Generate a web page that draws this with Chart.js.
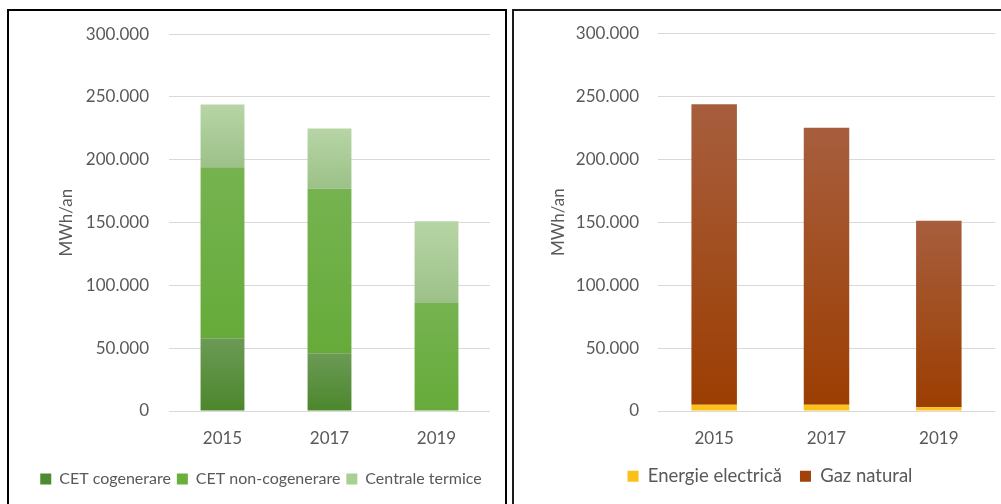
<!DOCTYPE html>
<html>
<head>
<meta charset="utf-8">
<script src="https://cdn.jsdelivr.net/npm/chart.js@4.4.1/dist/chart.umd.min.js"></script>
<style>
  body { margin: 0; background: #fff; width: 1001px; height: 504px; overflow: hidden; position: relative; font-family: Lato, sans-serif; }
  .panel { position: absolute; box-sizing: border-box; }
  #p1 { left: 7px; top: 9px; width: 500px; height: 520px; border: 2px solid #000; }
  #p2 { left: 512px; top: 9px; width: 500px; height: 520px; border: 2px solid #1a1a1a; }
  canvas { position: absolute; }
  #c1 { left: 10px; top: 4px; }
  #c2 { left: 515px; top: 4px; }
</style>
</head>
<body>
<div class="panel" id="p1"></div>
<div class="panel" id="p2"></div>
<canvas id="c1" width="494" height="500"></canvas>
<canvas id="c2" width="486" height="500"></canvas>
<script>
const years = ['2015', '2017', '2019'];
const yTickLabels = ['0', '50.000', '100.000', '150.000', '200.000', '250.000', '300.000'];

// left chart - MWh/an by source
const cetCogenerare = [58000, 46000, 0];
const cetNonCogenerare = [136000, 131000, 86000];
const centraleTermice = [50000, 48000, 65000];

// right chart - MWh/an by fuel
const energieElectrica = [5000, 5000, 3000];
const gazNatural = [238500, 220000, 148000];

const textColor = '#595959';
const gridColor = '#d9d9d9';

// vertical gradient over one stacked segment
function segmentGradient(topColor, bottomColor) {
    return function(ctx) {
        const chart = ctx.chart;
        const y = chart.scales && chart.scales.y;
        if (!y || ctx.type !== 'data') return bottomColor;
        let start = 0;
        for (let d = 0; d < ctx.datasetIndex; d++) {
            start += chart.data.datasets[d].data[ctx.dataIndex];
        }
        const end = start + chart.data.datasets[ctx.datasetIndex].data[ctx.dataIndex];
        const y0 = y.getPixelForValue(end);
        const y1 = y.getPixelForValue(start);
        if (!isFinite(y0) || !isFinite(y1) || y0 === y1) return bottomColor;
        const g = chart.ctx.createLinearGradient(0, y0, 0, y1);
        g.addColorStop(0, topColor);
        g.addColorStop(1, bottomColor);
        return g;
    };
}

function makeOptions(cfg) {
    return {
        responsive: false,
        animation: false,
        layout: { padding: cfg.padding },
        plugins: {
            legend: {
                position: 'bottom',
                labels: {
                    color: textColor,
                    font: { family: 'Lato', size: cfg.legendSize },
                    boxWidth: 11,
                    boxHeight: 11,
                    padding: cfg.legendPad,
                    generateLabels: function(chart) {
                        return chart.data.datasets.map(function(ds, i) {
                            return {
                                text: ds.label,
                                fillStyle: ds.swatch,
                                strokeStyle: ds.swatch,
                                lineWidth: 0,
                                fontColor: textColor,
                                datasetIndex: i
                            };
                        });
                    }
                }
            },
            tooltip: { enabled: false }
        },
        scales: {
            x: {
                stacked: true,
                grid: { display: false },
                border: { display: false },
                ticks: { color: textColor, font: { family: 'Lato', size: 17 }, padding: 9 },
                afterFit: function(scale) { scale.height = cfg.xHeight; }
            },
            y: {
                stacked: true,
                min: 0,
                max: 300000,
                border: { display: false },
                grid: { color: gridColor, lineWidth: 1, drawTicks: false },
                ticks: {
                    stepSize: 50000,
                    color: textColor,
                    font: { family: 'Lato', size: 17 },
                    padding: cfg.tickPad,
                    callback: function(v, i) { return yTickLabels[i]; }
                },
                title: {
                    display: true,
                    text: 'MWh/an',
                    color: textColor,
                    font: { family: 'Lato', size: 17 },
                    padding: { top: cfg.titlePad, bottom: 0 }
                },
                afterFit: function(scale) { scale.width = cfg.yWidth; }
            }
        }
    };
}

new Chart(document.getElementById('c1'), {
    type: 'bar',
    data: {
        labels: years,
        datasets: [
            {
                label: 'CET cogenerare',
                data: cetCogenerare,
                backgroundColor: segmentGradient('#6c9a55', '#4b872c'),
                swatch: '#4e8a30',
                barPercentage: 0.82,
                categoryPercentage: 0.5
            },
            {
                label: 'CET non-cogenerare',
                data: cetNonCogenerare,
                backgroundColor: segmentGradient('#76b350', '#66ab3a'),
                swatch: '#6aae3e',
                barPercentage: 0.82,
                categoryPercentage: 0.5
            },
            {
                label: 'Centrale termice',
                data: centraleTermice,
                backgroundColor: segmentGradient('#b7d5a5', '#9cc188'),
                swatch: '#a9cf92',
                barPercentage: 0.82,
                categoryPercentage: 0.5
            }
        ]
    },
    options: makeOptions({
        padding: { left: 22, right: 14, top: 0, bottom: 7 },
        yWidth: 137, xHeight: 54, tickPad: 20, titlePad: 24,
        legendSize: 16, legendPad: 6
    })
});

new Chart(document.getElementById('c2'), {
    type: 'bar',
    data: {
        labels: years,
        datasets: [
            {
                label: 'Energie electrică',
                data: energieElectrica,
                backgroundColor: '#fdbf1a',
                swatch: '#fdbf1a',
                barPercentage: 0.81,
                categoryPercentage: 0.5
            },
            {
                label: 'Gaz natural',
                data: gazNatural,
                backgroundColor: segmentGradient('#a75e3d', '#9c3e02'),
                swatch: '#a0420a',
                barPercentage: 0.81,
                categoryPercentage: 0.5
            }
        ]
    },
    options: makeOptions({
        padding: { left: 30, right: 6, top: 0, bottom: 8.5 },
        yWidth: 113, xHeight: 38, tickPad: 19, titlePad: 3,
        legendSize: 18.5, legendPad: 18
    })
});
</script>
</body>
</html>
